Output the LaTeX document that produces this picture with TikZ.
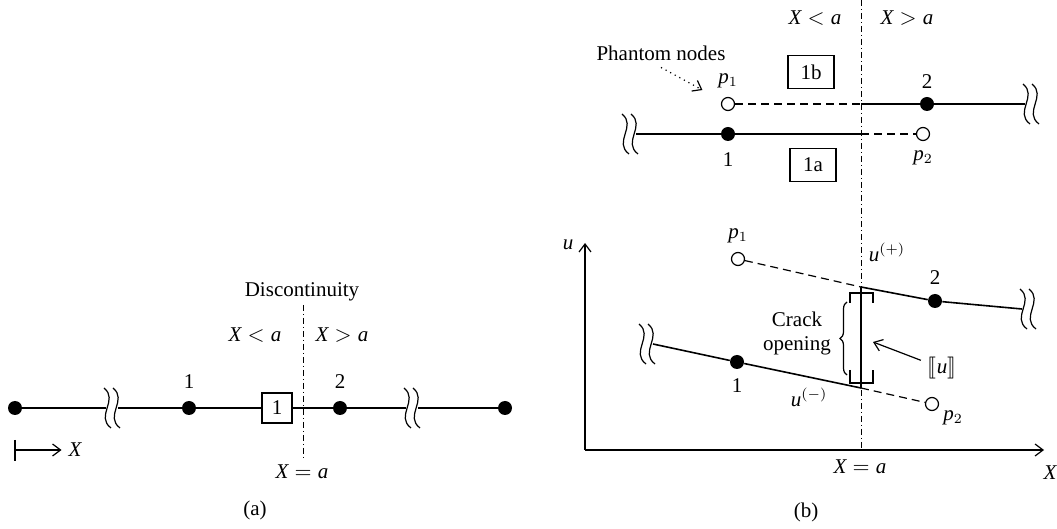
\documentclass[tikz,border=0pt]{standalone}
\usepackage{fontspec}
\setmainfont{Liberation Serif}
\usepackage{stmaryrd}
\usetikzlibrary{arrows.meta,positioning,decorations.pathreplacing}
\tikzset{dot/.style={circle,fill,inner sep=0pt,minimum size=7pt},
  ghost/.style={circle,draw,fill=white,inner sep=0pt,minimum size=6.5pt,line width=0.6pt},
  elem/.style={draw,inner sep=0pt,minimum width=23pt,minimum height=16.5pt,line width=0.6pt},
  bar/.style={line width=0.8pt},
  ghostline/.style={dash pattern=on 4pt off 2.5pt,line width=0.6pt},
  cut/.style={line width=0.5pt,dash pattern=on 3pt off 1.5pt on 0.5pt off 1.5pt},
  arr/.style={-{Straight Barb[length=4pt,width=6pt]},line width=0.6pt},
  brk/.pic={\draw[line width=0.6pt] (-5,-20) .. controls (10,-8) and (-14,8) .. (2,20)
    (4,-20) .. controls (19,-8) and (-5,8) .. (11,20);}}

\begin{document}
\begin{tikzpicture}[x=0.5pt,y=-0.5pt,font=\fontsize{10.5}{12}\selectfont]
\useasboundingbox (0,0) rectangle (1057,529);
% (a) bar with one cut element
\node[dot] (a0) at (15,408) {};
\node[dot] (a1) at (189,408) {};
\node[dot] (a2) at (340,408) {};
\node[dot] (a3) at (505,408) {};
\node[elem,minimum width=15pt,minimum height=15pt] (e1) at (277,408) {1};
\coordinate (s0) at (106,408); \coordinate (s1) at (118,408);
\coordinate (s2) at (406,408); \coordinate (s3) at (418,408);
\pic at (109,408) {brk};
\pic at (409,408) {brk};
\draw[bar] (a0)--(s0) (s1)--(a1)--(e1)--(a2)--(s2) (s3)--(a3);
\node[above=2.5pt of a1] {1};
\node[above=2.5pt of a2] {2};
\coordinate (d0) at (303,305); \coordinate (d1) at (303,460);
\draw[cut] (d0)--(d1);
\node (disc) at (302,292) {Discontinuity};
\node at (255,335) {$\mathit{X} < \mathit{a}$};
\node at (342,335) {$\mathit{X} > \mathit{a}$};
\node at (302,472) {$\mathit{X} = \mathit{a}$};
\coordinate (o0) at (15,440); \coordinate (o1) at (15,461); \coordinate (x0) at (15,450);
\node (xl) at (75,450) {$\mathit{X}$};
\draw[line width=0.6pt] (o0)--(o1);
\draw[arr] (x0)--(xl.west);
\node at (255,510) {(a)};

% (b) phantom nodes
\coordinate (cT) at (861,0); \coordinate (cB) at (861,450);
\draw[cut] (cT)--(cB);
\node at (815,18) {$\mathit{X} < \mathit{a}$};
\node at (907,18) {$\mathit{X} > \mathit{a}$};
\node[ghost] (q1) at (728,104) {};
\node[dot] (b2) at (927,104) {};
\node[dot] (b1) at (728,134) {};
\node[ghost] (q2) at (923,134) {};
\coordinate (m1) at (861,104); \coordinate (m2) at (861,134);
\coordinate (t1) at (1025,104); \coordinate (t0) at (636,134);
\pic at (1028,104) {brk};
\pic at (627,134) {brk};
\draw[ghostline] (q1)--(m1) (m2)--(q2);
\draw[bar] (m1)--(b2)--(t1) (t0)--(b1)--(m2);
\node[elem] (e1b) at (811,72) {1b};
\node[elem] (e1a) at (813,165) {1a};
\node[above=1pt of q1] {$\mathit{p}_1$};
\node[above=0.5pt of b2] {2};
\node[below=2pt of b1] {1};
\node[below=1pt of q2] {$\mathit{p}_2$};
\node (ph) at (661,53) {Phantom nodes};
\draw[arr,dotted,shorten >=11pt] (ph.south)--(q1);

% displacement field
\coordinate (O) at (585,450);
\coordinate (uT) at (585,243); \coordinate (xR) at (1044,450);
\draw[arr] (O)--(uT);
\draw[arr] (O)--(xR);
\node at (568,245) {$\mathit{u}$};
\node at (1050,473) {$\mathit{X}$};
\node at (860,467) {$\mathit{X} = \mathit{a}$};
\node at (806,512) {(b)};
\node[ghost] (r1) at (738,259) {};
\node[dot] (c2) at (935,301) {};
\node[dot] (c1) at (737,362) {};
\node[ghost] (r2) at (932,404) {};
\coordinate (up) at (861,287); \coordinate (um) at (861,388);
\coordinate (w1) at (1022,309); \coordinate (w0) at (653,344);
\pic at (1025,309) {brk};
\pic at (644,344) {brk};
\draw[ghostline] (r1)--(up) (um)--(r2);
\draw[bar] (up)--(c2)--(w1) (w0)--(c1)--(um);
\draw[line width=0.6pt] (up)--(um);
\node[above=1pt of r1] {$\mathit{p}_1$};
\node[above=1pt of c2] {2};
\node[below=1pt of c1] {1};
\node at (953,418) {$\mathit{p}_2$};
\node at (887,252) {$\mathit{u}^{(+)}$};
\node at (809,397) {$\mathit{u}^{(-)}$};
\draw[line width=0.6pt] (850,303)--(850,293)--(873,293)--(873,303)
  (850,370)--(850,383)--(873,383)--(873,370);
\draw[line width=0.6pt,decorate,decoration={brace,amplitude=3.5pt}] (847,375)--(847,302);
\node[align=center] (crk) at (797,333) {Crack\\opening};
\node (jmp) at (942,368) {$\llbracket \mathit{u} \rrbracket$};
\coordinate (jt) at (873,342);
\draw[arr] (jmp.160)--(jt);
\end{tikzpicture}
\end{document}
